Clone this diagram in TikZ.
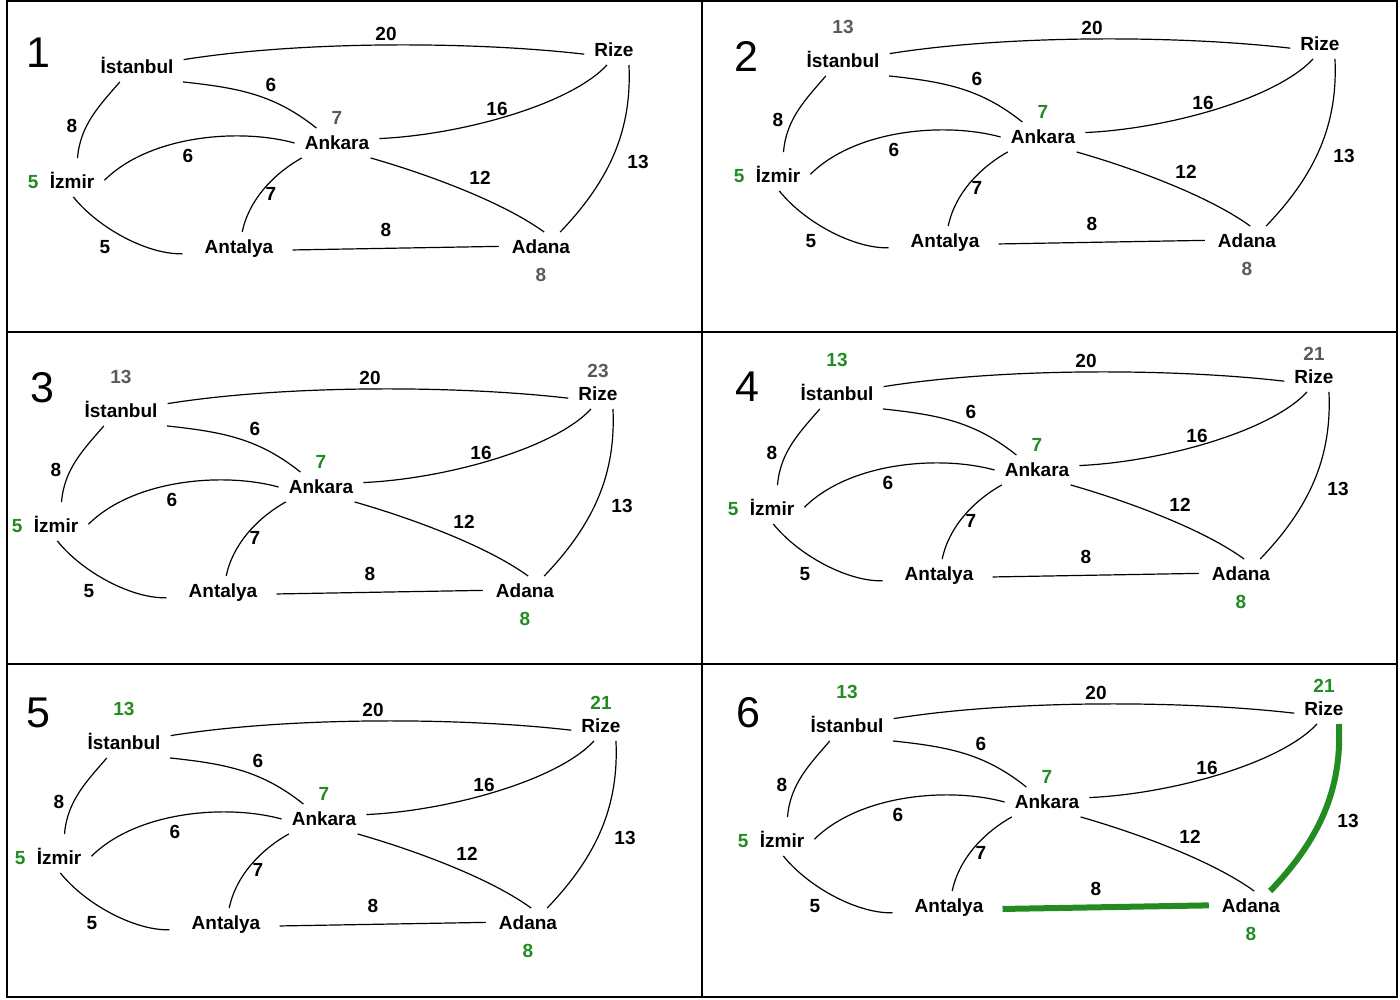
\documentclass[tikz,border=0pt]{standalone}
\usepackage{fontspec}
\setmainfont{Liberation Sans}
\usetikzlibrary{positioning}
\definecolor{pathgreen}{RGB}{34,139,34}
\definecolor{distgray}{RGB}{90,90,90}

% one copy of the road map, #1 = prefix of the node names
\newcommand{\citymap}[1]{%
  \node[city] (#1ist) at (137,67) {İstanbul};
  \node[city] (#1riz) at (614,50) {Rize};
  \node[city] (#1ank) at (337,143) {Ankara};
  \node[city] (#1izm) at (72,182) {İzmir};
  \node[city] (#1ant) at (239,247) {Antalya};
  \node[city] (#1ada) at (541,247) {Adana};
  \draw[road] (#1ist.9) .. controls (300,41) and (470,41) .. (#1riz.188);
  \draw[road] (#1ist.-18) .. controls (240,88) and (275,95) .. (#1ank.144);
  \draw[road,shorten >=9pt] (#1ist.221) .. controls (100,105) and (80,125) .. (#1izm.72);
  \draw[road] (#1izm.3) .. controls (150,135) and (240,128) .. (#1ank.180);
  \draw[road,shorten >=12pt] (#1izm.-85) .. controls (100,230) and (150,255) .. (#1ant.188);
  \draw[road] (#1ank.203) .. controls (280,170) and (250,195) .. (#1ant.78);
  \draw[road] (#1ank.6) .. controls (460,135) and (570,105) .. (#1riz.245);
  \draw[road] (#1ank.-24) .. controls (420,172) and (500,200) .. (#1ada.78);
  \draw[road,antada,shorten <=9pt,shorten >=3pt] (#1ant.-4) -- (#1ada.179);
  \draw[road,rizada] (#1riz.-45) .. controls (632,130) and (610,180) .. (#1ada.38);
  \node[weight] (#1w20) at (386,34) {20};
  \node[weight] (#1w6a) at (271,85) {6};
  \node[weight] (#1w8a) at (72,126) {8};
  \node[weight] (#1w6b) at (188,156) {6};
  \node[weight] (#1w5) at (105,247) {5};
  \node[weight] (#1w7) at (271,194) {7};
  \node[weight] (#1w16) at (497,109) {16};
  \node[weight] (#1w12) at (480,178) {12};
  \node[weight] (#1w8b) at (386,230) {8};
  \node[weight] (#1w13) at (638,162) {13};
}

\begin{document}
\begin{tikzpicture}[
  x=1pt, y=-1pt,
  city/.style={font=\fontsize{19}{19}\selectfont\bfseries, text height=13.5pt, text depth=0pt, inner xsep=10pt, inner ysep=8pt},
  weight/.style={font=\fontsize{19}{19}\selectfont\bfseries, text height=13.5pt, text depth=0pt, inner sep=0pt},
  dist/.style={font=\fontsize{19}{19}\selectfont\bfseries, text height=13.5pt, text depth=0pt, inner sep=3pt},
  done/.style={dist, text=pathgreen},
  open/.style={dist, text=distgray},
  panelno/.style={font=\fontsize{43}{43}\selectfont, text height=31pt, text depth=0pt, inner sep=0pt},
  road/.style={line width=1.2pt},
  chosen/.style={line width=6pt, draw=pathgreen},
  antada/.style={}, rizada/.style={},
  frame/.style={line width=1.6pt}
]
\useasboundingbox (0,0) rectangle (1400,999);
\draw[frame] (7,1) rectangle (1397,997);
\draw[frame] (702,1) -- (702,997);
\draw[frame] (7,332) -- (1397,332);
\draw[frame] (7,664) -- (1397,664);

\node[panelno] (n1) at (38,52) {1};
\node[panelno] (n2) at (746,56) {2};
\node[panelno] (n3) at (42,387) {3};
\node[panelno] (n4) at (747,386) {4};
\node[panelno] (n5) at (38,712) {5};
\node[panelno] (n6) at (748,712) {6};

% step 1
\begin{scope}
  \citymap{a}
  \node[done,left=-2pt of aizm] (aizm-d) {5};
  \node[open,above=0pt of aank] (aank-d) {7};
  \node[open,below=3pt of aada] (aada-d) {8};
\end{scope}

% step 2
\begin{scope}[shift={(706,-6)}]
  \citymap{b}
  \node[done,left=-2pt of bizm] (bizm-d) {5};
  \node[done,above=0pt of bank] (bank-d) {7};
  \node[open,below=3pt of bada] (bada-d) {8};
  \node[open,above=9pt of bist] (bist-d) {13};
\end{scope}

% step 3
\begin{scope}[shift={(-16,344)}]
  \citymap{c}
  \node[done,left=-2pt of cizm] (cizm-d) {5};
  \node[done,above=0pt of cank] (cank-d) {7};
  \node[done,below=3pt of cada] (cada-d) {8};
  \node[open,above=9pt of cist] (cist-d) {13};
  \node[open,above=-2pt of criz] (criz-d) {23};
\end{scope}

% step 4
\begin{scope}[shift={(700,327)}]
  \citymap{d}
  \node[done,left=-2pt of dizm] (dizm-d) {5};
  \node[done,above=0pt of dank] (dank-d) {7};
  \node[done,below=3pt of dada] (dada-d) {8};
  \node[done,above=9pt of dist] (dist-d) {13};
  \node[open,above=-2pt of driz] (driz-d) {21};
\end{scope}

% step 5
\begin{scope}[shift={(-13,676)}]
  \citymap{e}
  \node[done,left=-2pt of eizm] (eizm-d) {5};
  \node[done,above=0pt of eank] (eank-d) {7};
  \node[done,below=3pt of eada] (eada-d) {8};
  \node[done,above=9pt of eist] (eist-d) {13};
  \node[done,above=-2pt of eriz] (eriz-d) {21};
\end{scope}

% step 6, chosen roads
\begin{scope}[shift={(710,659)}, antada/.style={chosen}, rizada/.style={chosen}]
  \citymap{f}
  \node[done,left=-2pt of fizm] (fizm-d) {5};
  \node[done,above=0pt of fank] (fank-d) {7};
  \node[done,below=3pt of fada] (fada-d) {8};
  \node[done,above=9pt of fist] (fist-d) {13};
  \node[done,above=-2pt of friz] (friz-d) {21};
\end{scope}
\end{tikzpicture}
\end{document}
